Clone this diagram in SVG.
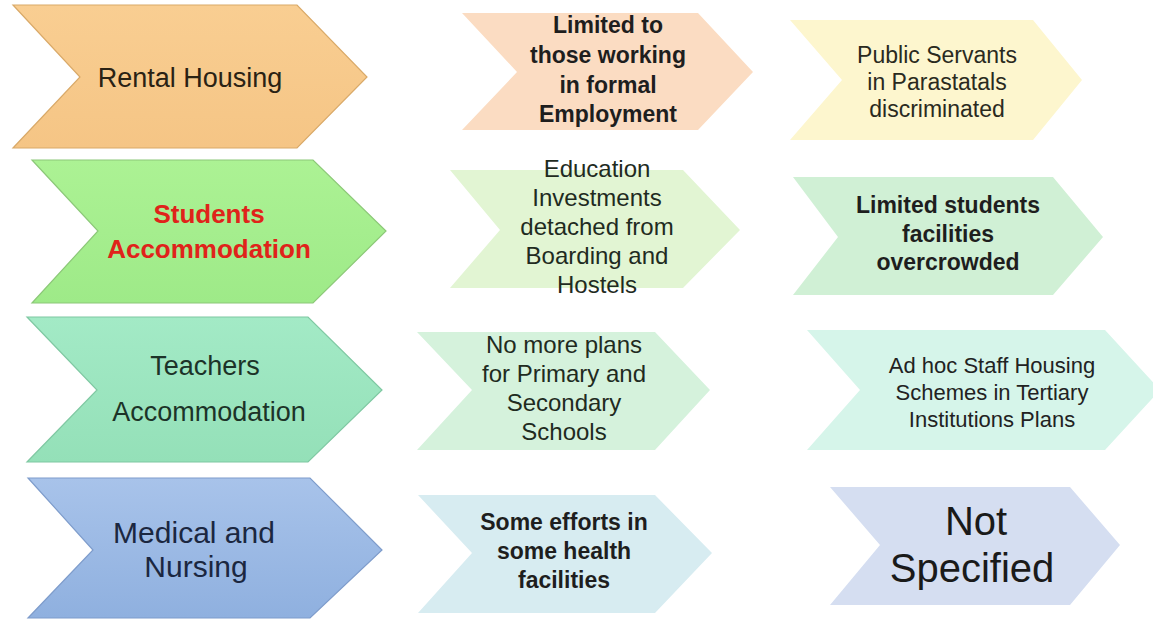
<svg xmlns="http://www.w3.org/2000/svg" width="1153" height="620" viewBox="0 0 1153 620">
<defs>
<style>
text{font-family:"Liberation Sans",Arial,sans-serif;text-anchor:middle;fill:#1e1e1e}
.b{font-weight:bold}
.main{stroke-width:1.2}
</style>
<linearGradient id="gOr" x1="0" y1="0" x2="0" y2="1"><stop offset="0" stop-color="#F9CE92"/><stop offset="1" stop-color="#F5C585"/></linearGradient>
<linearGradient id="gGr" x1="0" y1="0" x2="0" y2="1"><stop offset="0" stop-color="#ACF294"/><stop offset="1" stop-color="#9EEA88"/></linearGradient>
<linearGradient id="gMi" x1="0" y1="0" x2="0" y2="1"><stop offset="0" stop-color="#A3EAC6"/><stop offset="1" stop-color="#94E0B8"/></linearGradient>
<linearGradient id="gBl" x1="0" y1="0" x2="0" y2="1"><stop offset="0" stop-color="#A8C3EA"/><stop offset="1" stop-color="#8FB0DF"/></linearGradient>
</defs>
<rect width="1153" height="620" fill="#FFFFFF"/>
<g id="connectors"/>
<g id="rental-housing">
<polygon class="main" points="13,5 297,5 367,77 297,148 13,148 80,77" fill="url(#gOr)" stroke="#D9A968"/>
<text x="190" y="87" font-size="27" style="fill:#2a2214">Rental Housing</text>
</g>
<g id="students-accommodation">
<polygon class="main" points="32,160 313,160 386,231 313,303 32,303 98,231" fill="url(#gGr)" stroke="#8CC878"/>
<text class="b" x="209" y="223" font-size="26" style="fill:#E0231A">Students</text>
<text class="b" x="209" y="258" font-size="26" style="fill:#E0231A">Accommodation</text>
</g>
<g id="teachers-accommodation">
<polygon class="main" points="27,317 308,317 382,390 308,462 27,462 97,390" fill="url(#gMi)" stroke="#7FC8A2"/>
<text x="205" y="375" font-size="27" style="fill:#1c3328">Teachers</text>
<text x="209" y="421" font-size="27" style="fill:#1c3328">Accommodation</text>
</g>
<g id="medical-nursing">
<polygon class="main" points="28,478 310,478 382,550 310,618 28,618 93,550" fill="url(#gBl)" stroke="#7E9CCB"/>
<text x="194" y="543" font-size="30" style="fill:#1b2740">Medical and</text>
<text x="196" y="577" font-size="30" style="fill:#1b2740">Nursing</text>
</g>
<g id="limited-formal">
<polygon points="462,13 698,13 753,72 698,130 462,130 517,72" fill="#FBDCC2"/>
<text class="b" x="608" y="33" font-size="23">Limited to</text>
<text class="b" x="608" y="63" font-size="23">those working</text>
<text class="b" x="608" y="93" font-size="23">in formal</text>
<text class="b" x="608" y="122" font-size="23">Employment</text>
</g>
<g id="education-investments">
<polygon points="450,170 683,170 740,230 683,288 450,288 500,230" fill="#E2F5D3"/>
<text x="597" y="177" font-size="24" style="fill:#1f2b1f">Education</text>
<text x="597" y="206" font-size="24" style="fill:#1f2b1f">Investments</text>
<text x="597" y="235" font-size="24" style="fill:#1f2b1f">detached from</text>
<text x="597" y="264" font-size="24" style="fill:#1f2b1f">Boarding and</text>
<text x="597" y="293" font-size="24" style="fill:#1f2b1f">Hostels</text>
</g>
<g id="no-more-plans">
<polygon points="417,332 655,332 710,390 655,450 417,450 472,390" fill="#D5F2DC"/>
<text x="564" y="353" font-size="24" style="fill:#1f2b1f">No more plans</text>
<text x="564" y="382" font-size="24" style="fill:#1f2b1f">for Primary and</text>
<text x="564" y="411" font-size="24" style="fill:#1f2b1f">Secondary</text>
<text x="564" y="440" font-size="24" style="fill:#1f2b1f">Schools</text>
</g>
<g id="some-efforts">
<polygon points="418,495 655,495 712,553 655,613 418,613 472,553" fill="#D7ECF1"/>
<text class="b" x="564" y="530" font-size="23">Some efforts in</text>
<text class="b" x="564" y="559" font-size="23">some health</text>
<text class="b" x="564" y="588" font-size="23">facilities</text>
</g>
<g id="public-servants">
<polygon points="790,20 1033,20 1082,80 1033,140 790,140 842,80" fill="#FDF6CE"/>
<text x="937" y="63" font-size="23" style="fill:#2a2a1e">Public Servants</text>
<text x="937" y="90" font-size="23" style="fill:#2a2a1e">in Parastatals</text>
<text x="937" y="117" font-size="23" style="fill:#2a2a1e">discriminated</text>
</g>
<g id="limited-students">
<polygon points="793,177 1053,177 1103,237 1053,295 793,295 838,237" fill="#D0F0D5"/>
<text class="b" x="948" y="213" font-size="23">Limited students</text>
<text class="b" x="948" y="242" font-size="23">facilities</text>
<text class="b" x="948" y="270" font-size="23">overcrowded</text>
</g>
<g id="adhoc-staff">
<polygon points="807,330 1105,330 1160,390 1105,450 807,450 860,390" fill="#D6F5EA"/>
<text x="992" y="373" font-size="22" style="fill:#222">Ad hoc Staff Housing</text>
<text x="992" y="400" font-size="22" style="fill:#222">Schemes in Tertiary</text>
<text x="992" y="427" font-size="22" style="fill:#222">Institutions Plans</text>
</g>
<g id="not-specified">
<polygon points="830,487 1070,487 1120,545 1070,605 830,605 880,545" fill="#D5DEF1"/>
<text x="976" y="535" font-size="40" style="fill:#1a1a1a">Not</text>
<text x="972" y="582" font-size="40" style="fill:#1a1a1a">Specified</text>
</g>
</svg>
